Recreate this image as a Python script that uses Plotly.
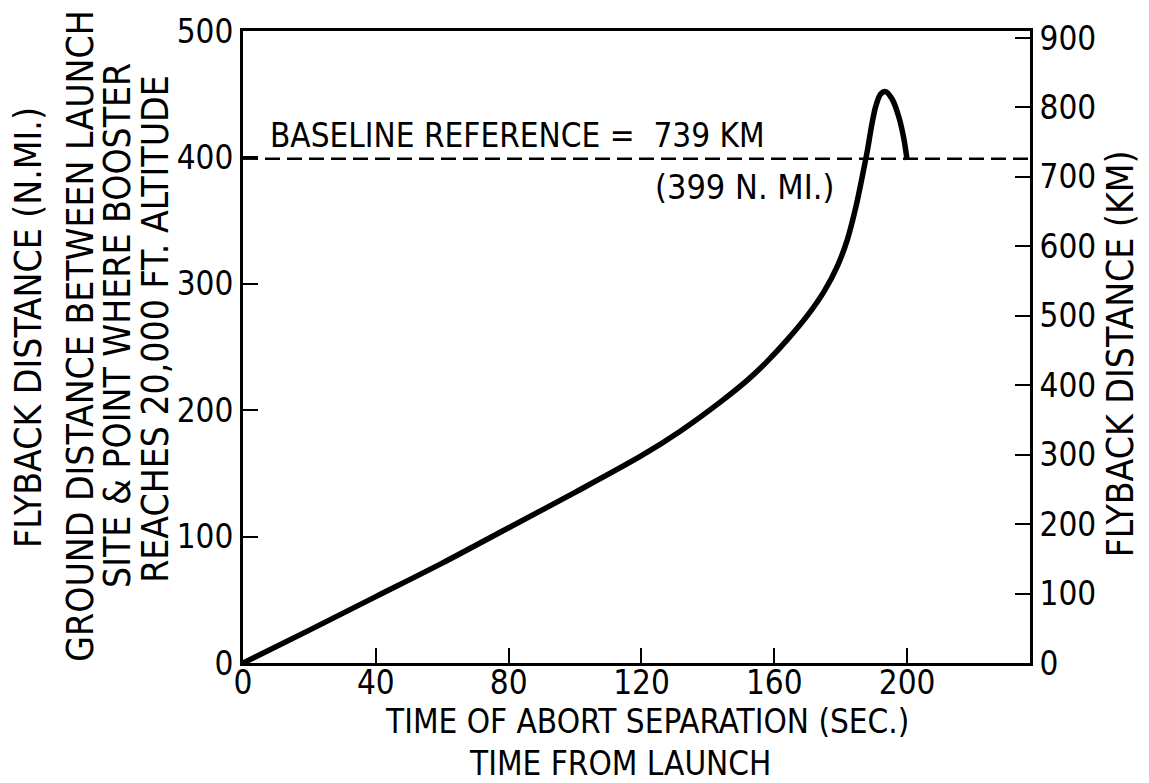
import plotly.graph_objects as go

# Data (time in s, flyback distance in N.MI.)
time_s = [0, 20, 40, 60, 80, 100, 120, 132, 144, 152, 158, 164, 170, 175, 179, 182, 184.5, 186.5,
          188, 189.3, 190.5, 192, 193.5, 195.5, 197.5, 199, 200]
flyback_nmi = [0, 26, 52.5, 79, 107, 135, 164, 184, 207, 224, 239, 256, 275, 294, 314, 335, 360, 385,
               405, 425, 440, 450, 452, 446, 432, 415, 398]

baseline_x = [0, 237]
baseline_nmi = [399, 399]

x_ticks = [0, 40, 80, 120, 160, 200]
y_ticks = [0, 100, 200, 300, 400, 500]
y2_ticks = [0, 100, 200, 300, 400, 500, 600, 700, 800, 900]

FONT = "DejaVu Sans Condensed, Liberation Sans Narrow, sans-serif"

fig = go.Figure()
fig.add_trace(go.Scatter(x=baseline_x, y=baseline_nmi, mode="lines",
                         line=dict(color="black", width=2.5, dash="15px,7px"),
                         showlegend=False, hoverinfo="skip"))
fig.add_trace(go.Scatter(x=time_s, y=flyback_nmi, mode="lines",
                         line=dict(color="black", width=5.5, shape="spline", smoothing=0.8),
                         showlegend=False))
# invisible trace to activate right axis
fig.add_trace(go.Scatter(x=[0], y=[0], yaxis="y2", mode="markers",
                         marker=dict(opacity=0), showlegend=False, hoverinfo="skip"))

W, H = 1149, 783
L, R, T, B = 243, 1030, 18, 663
TICK = 33

fig.update_layout(
    width=W, height=H,
    margin=dict(l=L, r=W - R, t=T, b=H - B, pad=0),
    paper_bgcolor="white", plot_bgcolor="white",
    font=dict(family=FONT, color="black", size=TICK),
    xaxis=dict(range=[0, 237], tickvals=x_ticks, ticks="inside", ticklen=15, tickwidth=2,
               tickcolor="black", showline=True, linewidth=3, linecolor="black", mirror=True,
               showgrid=False, zeroline=False, ticklabelstandoff=-12,
               tickfont=dict(family=FONT, size=TICK)),
    yaxis=dict(range=[0, 500], tickvals=y_ticks, ticks="inside", ticklen=15, tickwidth=2,
               tickcolor="black", showline=True, linewidth=3, linecolor="black",
               showgrid=False, zeroline=False, tickfont=dict(family=FONT, size=TICK)),
    yaxis2=dict(range=[0, 910], tickvals=y2_ticks, overlaying="y", side="right", ticks="inside",
                ticklen=15, tickwidth=2, tickcolor="black", showline=True, linewidth=3,
                linecolor="black", showgrid=False, zeroline=False,
                tickfont=dict(family=FONT, size=TICK)),
)

def px_x(p):
    return (p - L) / (R - L)

def px_y(p):
    return (B - p) / (B - T)

annots = [
    dict(text="BASELINE REFERENCE =  739 KM", x=px_x(268), y=px_y(125), xanchor="left", size=33, angle=0),
    dict(text="(399 N. MI.)", x=px_x(653), y=px_y(177), xanchor="left", size=34, angle=0),
    dict(text="FLYBACK DISTANCE (N.MI.)", x=px_x(29), y=px_y(321), xanchor="center", size=37, angle=-90),
    dict(text="GROUND DISTANCE BETWEEN LAUNCH", x=px_x(81), y=px_y(330), xanchor="center", size=37, angle=-90),
    dict(text="SITE &amp; POINT WHERE BOOSTER", x=px_x(118), y=px_y(319), xanchor="center", size=37, angle=-90),
    dict(text="REACHES 20,000 FT. ALTITUDE", x=px_x(156), y=px_y(322), xanchor="center", size=37, angle=-90),
    dict(text="FLYBACK DISTANCE (KM)", x=px_x(1120), y=px_y(348), xanchor="center", size=37, angle=-90),
    dict(text="TIME OF ABORT SEPARATION (SEC.)", x=px_x(647), y=px_y(723), xanchor="center", size=33, angle=0),
    dict(text="TIME FROM LAUNCH", x=px_x(620), y=px_y(766), xanchor="center", size=33, angle=0),
]
for a in annots:
    fig.add_annotation(text=a["text"], x=a["x"], y=a["y"], xref="paper", yref="paper",
                       xanchor=a["xanchor"], yanchor="middle", showarrow=False,
                       textangle=a["angle"], font=dict(family=FONT, size=a["size"], color="black"))

fig.write_html("out.html")
